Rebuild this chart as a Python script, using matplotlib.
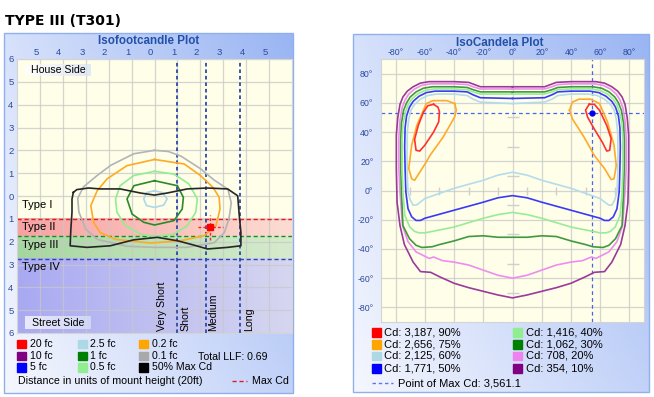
import numpy as np
import matplotlib
matplotlib.use("Agg")
import matplotlib.pyplot as plt
from matplotlib.patches import Rectangle
from matplotlib.colors import to_rgb
from matplotlib.transforms import ScaledTranslation

plt.rcParams["font.family"] = ["Liberation Sans", "DejaVu Sans"]

W, H = 654, 397

# ---------------- isofootcandle data (units of mount height) ----------------
fc_x_ticks = [-5, -4, -3, -2, -1, 0, 1, 2, 3, 4, 5]
fc_y_ticks = [-6, -5, -4, -3, -2, -1, 0, 1, 2, 3, 4, 5, 6]
type_bounds = [-1.0, -1.75, -2.75, -6.0]      # Type II / III / IV edges
range_lines = [1.0, 2.25, 3.75]               # very short | short | medium | long
range_labels = ["Very Short", "Short", "Medium", "Long"]
type_labels = ["Type I", "Type II", "Type III", "Type IV"]

fc_01 = [(0, 2.0), (0.6, 1.95), (1.15, 1.75), (2.0, 1.2), (2.6, 0.7), (3.2, 0.3),
         (3.35, -0.3), (3.25, -1.0), (3.05, -1.6), (2.6, -2.05), (1.4, -2.25),
         (0, -2.25), (-1.2, -2.2), (-2.5, -1.9), (-3.0, -1.45), (-3.3, -0.7),
         (-3.35, -0.1), (-3.1, 0.4), (-2.5, 0.9), (-1.9, 1.35), (-0.9, 1.85), (0, 2.0)]
fc_02 = [(0, 1.6), (1.3, 1.4), (2.0, 0.9), (2.55, 0.38), (2.82, -0.05), (2.86, -0.57),
         (2.68, -1.3), (2.16, -1.74), (1.14, -1.96), (-0.17, -2.06), (-1.7, -1.9),
         (-2.37, -1.6), (-2.66, -1.15), (-2.78, -0.42), (-2.5, 0.23), (-2.07, 0.75),
         (-1.2, 1.33), (0, 1.6)]
fc_05 = [(0, 1.08), (0.85, 0.96), (1.5, 0.53), (1.87, -0.13), (1.8, -0.71), (1.43, -1.3),
         (0.85, -1.67), (0, -1.78), (-0.6, -1.67), (-1.27, -1.3), (-1.64, -0.71),
         (-1.7, -0.13), (-1.5, 0.45), (-0.9, 0.9), (0, 1.08)]
fc_1 = [(0, 0.67), (1.0, 0.45), (1.26, -0.06), (1.21, -0.57), (0.85, -1.08), (0, -1.27),
        (-0.47, -1.15), (-0.98, -0.79), (-1.2, -0.13), (-0.9, 0.45), (0, 0.67)]
fc_25 = [(0, 0.23), (0.35, 0.15), (0.55, -0.13), (0.4, -0.4), (0, -0.5), (-0.35, -0.42),
         (-0.47, -0.13), (-0.35, 0.15), (0, 0.23)]
fc_half_max = [(-3.54, 0.16), (-3.39, 0.28), (-2.88, 0.35), (-2.37, 0.31), (-1.5, 0.31),
               (-0.61, 0.13), (0, 0.04), (0.55, 0.13), (1.43, 0.31), (2.31, 0.35),
               (3.19, 0.31), (3.63, 0.01), (3.7, -0.86), (3.77, -1.6), (3.77, -2.18),
               (3.19, -2.25), (2.31, -2.32), (1.72, -2.15), (1.0, -1.96), (0.12, -1.81),
               (-0.91, -1.92), (-1.93, -2.18), (-2.95, -2.25), (-3.68, -2.18),
               (-3.65, -1.45), (-3.6, -0.71), (-3.6, -0.13), (-3.54, 0.16)]
fc_max_point = (2.43, -1.37)

fc_labels = ["20 fc", "10 fc", "5 fc", "2.5 fc", "1 fc", "0.5 fc", "0.2 fc", "0.1 fc", "50% Max Cd"]
fc_colors = ["#ff0000", "#800080", "#0000ff", "#add8e6", "#008000", "#90ee90",
             "#ffa500", "#a9a9a9", "#000000"]

# ---------------- isocandela data (degrees) ----------------
cd_ticks = [-80, -60, -40, -20, 0, 20, 40, 60, 80]
cd_minor = [-70, -50, -30, -10, 10, 30, 50, 70]

cd_90_left = [(-54, 59), (-51, 57), (-50, 54), (-50.5, 47), (-54, 40), (-60, 31), (-63.5, 27),
              (-66, 27.5), (-67, 35), (-64.5, 44.5), (-61, 53.5), (-58, 58), (-54, 59)]
cd_90_right = [(52.5, 59), (50, 55), (51.5, 50), (56, 42), (61.5, 33), (64.5, 27), (66.5, 27.5),
               (67.5, 35.5), (64.5, 44.5), (59.5, 55), (56, 59), (52.5, 59)]
cd_75_left = [(-39.5, 59.5), (-45, 61.5), (-54.5, 61.5), (-59, 59.5), (-65.5, 44.5), (-69, 31),
              (-71, 15), (-69, 8), (-67, 7), (-63.5, 12.5), (-59, 19.5), (-56.5, 24),
              (-47.5, 36.5), (-39.5, 50.5), (-38.5, 55), (-39.5, 59.5)]
cd_75_right = [(39, 55), (41, 60.5), (45.5, 62.5), (53.5, 62.5), (59.5, 59.5), (65, 47),
               (69.5, 31), (71, 17), (69.5, 8), (67.5, 7.5), (63, 15), (56, 24), (49, 36.5),
               (41, 49), (39, 55)]
cd_60 = [(0, 59.5), (-22, 60.5), (-27, 62.5), (-31, 65), (-40, 66), (-52, 66), (-58, 65),
         (-63, 62.5), (-67, 59), (-69.5, 55), (-71, 49), (-72, 40), (-72.2, 25), (-72, 10),
         (-71.5, -1), (-70, -6.5), (-68, -10), (-66, -10), (-64.5, -9), (-60, -5.5), (-40, 1.5),
         (-20, 7), (-10, 10.5), (0, 12.5), (10, 10.5), (20, 7), (40, 1.5), (60, -5.5),
         (64.5, -9), (66, -10), (68, -10), (70, -6.5), (71.5, -1), (72, 10), (72.2, 25),
         (72, 40), (71, 49), (69.5, 55), (67, 59), (63, 62.5), (58, 65), (52, 66), (40, 66),
         (31, 65), (27, 62.5), (22, 60.5), (0, 59.5)]
cd_50 = [(0, 63), (-22, 63.5), (-27, 65.5), (-31, 67.5), (-40, 68), (-53, 68), (-59, 67),
         (-64, 64.5), (-68, 61), (-70.5, 57), (-72.5, 51), (-73.5, 43), (-73.8, 30),
         (-73.5, 15), (-73, -1), (-71.5, -12.5), (-69, -18), (-66, -20.5), (-63, -20.5),
         (-60, -19), (-40, -13.5), (-20, -8), (-10, -5), (0, -3.5), (10, -5), (20, -8),
         (40, -13.5), (60, -19), (63, -20.5), (66, -20.5), (69, -18), (71.5, -12.5), (73, -1),
         (73.5, 15), (73.8, 30), (73.5, 43), (72.5, 51), (70.5, 57), (68, 61), (64, 64.5),
         (59, 67), (53, 68), (40, 68), (31, 67.5), (27, 65.5), (22, 63.5), (0, 63)]
cd_40 = [(0, 66), (-22, 66), (-27, 67.5), (-31, 69), (-40, 69.5), (-54, 69.5), (-60, 68.5),
         (-65, 66), (-69, 62.5), (-71.5, 58.5), (-73.5, 53), (-75, 45), (-75.5, 35),
         (-75.5, 15), (-75, -1), (-73.7, -17), (-70.3, -25), (-67, -28), (-64, -29), (-60, -29),
         (-40, -25), (-20, -19), (-10, -16.5), (0, -15), (10, -16.5), (20, -19), (40, -25),
         (60, -29), (64, -29), (67, -28), (70.3, -25), (73.7, -17), (75, -1), (75.5, 15),
         (75.5, 35), (75, 45), (73.5, 53), (71.5, 58.5), (69, 62.5), (65, 66), (60, 68.5),
         (54, 69.5), (40, 69.5), (31, 69), (27, 67.5), (22, 66), (0, 66)]
cd_30 = [(0, 67.5), (-22, 67.5), (-27, 69), (-31, 70.5), (-40, 71), (-55, 71), (-61, 70),
         (-66, 67.5), (-70, 64), (-72.5, 60), (-74.5, 55), (-76, 46), (-76.5, 35), (-76.5, 15),
         (-76, -1), (-75, -24), (-70.5, -33), (-66, -37.5), (-62, -39), (-55, -38.5),
         (-50, -37), (-40, -34.5), (-30, -31.5), (-20, -31), (-10, -32), (0, -32), (10, -32),
         (20, -31), (30, -31.5), (40, -34.5), (50, -37), (55, -38.5), (62, -39), (66, -37.5),
         (70.5, -33), (75, -24), (76, -1), (76.5, 15), (76.5, 35), (76, 46), (74.5, 55),
         (72.5, 60), (70, 64), (66, 67.5), (61, 70), (55, 71), (40, 71), (31, 70.5), (27, 69),
         (22, 67.5), (0, 67.5)]
cd_20 = [(0, 69.5), (-22, 69.5), (-27, 71), (-31, 72.5), (-40, 73), (-56, 73), (-62, 72),
         (-67, 69.5), (-71, 66), (-73.5, 62), (-75.5, 57), (-77, 48), (-77.8, 36), (-77.8, 15),
         (-77, -1), (-75.3, -24), (-71.5, -35), (-66, -42), (-61, -44.5), (-57, -46.5),
         (-54, -45.5), (-48, -48), (-40, -49), (-30, -51), (-20, -54.5), (-10, -58), (0, -60),
         (10, -58), (20, -54.5), (30, -51), (40, -49), (48, -48), (54, -45.5), (57, -46.5),
         (61, -44.5), (66, -42), (71.5, -35), (75.3, -24), (77, -1), (77.8, 15), (77.8, 36),
         (77, 48), (75.5, 57), (73.5, 62), (71, 66), (67, 69.5), (62, 72), (56, 73), (40, 73),
         (31, 72.5), (27, 71), (22, 69.5), (0, 69.5)]
cd_10 = [(0, 71), (-12, 71), (-22, 71), (-26, 72.5), (-30, 74), (-40, 74.5), (-57, 74.5),
         (-63, 73.5), (-68, 71), (-72, 68), (-75, 64), (-77, 59), (-78.5, 50), (-79.5, 38),
         (-79.5, 15), (-79, -8), (-77, -24), (-74, -37), (-71, -43), (-68, -49), (-63, -55.5),
         (-56, -56), (-50, -59), (-40, -63.5), (-30, -66.5), (-20, -69), (-10, -71.5),
         (0, -73.5), (10, -71.5), (20, -69), (30, -66.5), (40, -63.5), (50, -59), (56, -56),
         (63, -55.5), (68, -49), (71, -43), (74, -37), (77, -24), (79, -8), (79.5, 15),
         (79.5, 38), (78.5, 50), (77, 59), (75, 64), (72, 68), (68, 71), (63, 73.5), (57, 74.5),
         (40, 74.5), (30, 74), (26, 72.5), (22, 71), (12, 71), (0, 71)]
cd_max_point = (54.6, 53.2)

cd_labels = ["Cd: 3,187, 90%", "Cd: 2,656, 75%", "Cd: 2,125, 60%", "Cd: 1,771, 50%",
             "Cd: 1,416, 40%", "Cd: 1,062, 30%", "Cd: 708, 20%", "Cd: 354, 10%"]
cd_colors = ["#ff0000", "#ffa500", "#add8e6", "#0000ff", "#90ee90", "#008000", "#ee82ee", "#800080"]

TICK = "#2c4a9e"
HEAD = "#2350a8"
PLOT_BG = "#fefee9"


def px_rect(x0, y0, x1, y1):
    return [x0 / W, 1 - y1 / H, (x1 - x0) / W, (y1 - y0) / H]


def grad(ax, extent, tl, tr, bl, br, zorder=0, alpha=1.0):
    n = 64
    u = np.linspace(0, 1, n)
    tl, tr, bl, br = (np.array(to_rgb(c)) for c in (tl, tr, bl, br))
    top = (1 - u)[:, None] * tl + u[:, None] * tr
    bot = (1 - u)[:, None] * bl + u[:, None] * br
    img = (1 - u)[:, None, None] * top[None] + u[:, None, None] * bot[None]
    ax.imshow(img, extent=extent, aspect="auto", interpolation="bilinear",
              zorder=zorder, alpha=alpha)


def xy(pts):
    return [p[0] for p in pts], [p[1] for p in pts]


fig = plt.figure(figsize=(W / 100, H / 100), dpi=100)

# background frames
bg = fig.add_axes([0, 0, 1, 1])
bg.axis("off")
for x0, y0, x1, y1 in [(4, 33, 293, 393), (353, 34, 649, 392)]:
    grad(bg, (x0, x1, y1, y0), "#d6e1fb", "#9ab5f3", "#f5f7fe", "#c2d2f8")
    bg.add_patch(Rectangle((x0, y0), x1 - x0, y1 - y0, fill=False, ec="#8fb0ec", lw=1, zorder=3))
bg.set_xlim(0, W)
bg.set_ylim(H, 0)

# ---------------- isofootcandle plot ----------------
axL = fig.add_axes(px_rect(17, 59, 292, 333))
axL.set_facecolor(PLOT_BG)
band_cols = [("#f7a2a2", "#fcdcd2"), ("#a6d6a0", "#d6ebcd"), ("#a9a9f3", "#d6d6f0")]
for i, (cl, cr) in enumerate(band_cols):
    grad(axL, (-6, 6, type_bounds[i + 1], type_bounds[i]), cl, cr, cl, cr)
for yb, c in zip(type_bounds[:3], ["#e02020", "#1f8a1f", "#2a4aa8"]):
    axL.axhline(yb, color=c, lw=1, ls=(0, (3, 2)), zorder=1.8)
for xv in range_lines:
    axL.axvline(xv, color="#2c4aa8", lw=1.3, ls=(0, (2, 1.6)), zorder=1.8)

for pts, c in [(fc_01, "#b4b4b4"), (fc_02, "#ffaa22"), (fc_05, "#90ee90"),
               (fc_1, "#2a8a2a"), (fc_25, "#add8e6"), (fc_half_max, "#262626")]:
    px, py = xy(pts)
    axL.plot(px, py, color=c, lw=1.2, zorder=3)

mx, my = fc_max_point
axL.plot([mx - 0.55, mx + 0.55], [my, my], color="#ff2020", lw=1, ls=(0, (2, 1.5)), zorder=4)
axL.plot([mx, mx], [my - 0.55, my + 0.55], color="#ff2020", lw=1, ls=(0, (2, 1.5)), zorder=4)
axL.plot([mx], [my], marker="s", ms=4, color="#ff0000", zorder=5)

axL.set_xlim(-6, 6)
axL.set_ylim(-6, 6)
axL.set_xticks(fc_x_ticks)
axL.set_xticklabels([str(abs(v)) for v in fc_x_ticks])
axL.set_yticks(fc_y_ticks)
axL.set_yticklabels([str(abs(v)) for v in fc_y_ticks])
axL.xaxis.tick_top()
axL.tick_params(axis="x", length=0, labelsize=6.8, labelcolor=TICK, pad=1.5)
axL.tick_params(axis="y", length=0, labelsize=6.8, labelcolor=TICK, pad=2.5)
for lab in axL.get_xticklabels():
    lab.set_transform(lab.get_transform() + ScaledTranslation(-0.04, 0, fig.dpi_scale_trans))
axL.grid(True, color="#c8c8c8", lw=0.9, alpha=0.75)
for s in axL.spines.values():
    s.set_color("#d4d4d4")
    s.set_linewidth(0.8)

# ---------------- isocandela plot ----------------
axR = fig.add_axes(px_rect(381, 59, 644, 322))
axR.set_facecolor(PLOT_BG)
axR.plot(cd_minor, [0] * len(cd_minor), ls="none", marker="|", ms=6, mew=1, color="#cfcfcf", zorder=1.6)
axR.plot([0] * len(cd_minor), cd_minor, ls="none", marker="_", ms=9, mew=1, color="#cfcfcf", zorder=1.6)
axR.axhline(cd_max_point[1], color="#4a66e6", lw=0.9, ls=(0, (3, 2.5)), zorder=1.8)
axR.axvline(cd_max_point[0], color="#4a66e6", lw=0.9, ls=(0, (3, 2.5)), zorder=1.8)

for pts, c in [(cd_10, "#9a3a9a"), (cd_20, "#ef8cef"), (cd_30, "#3f9a3f"), (cd_40, "#98ec98"),
               (cd_50, "#3a3af6"), (cd_60, "#b4dcea"), (cd_75_left, "#ffaa2a"),
               (cd_75_right, "#ffaa2a"), (cd_90_left, "#ff3030"), (cd_90_right, "#ff3030")]:
    px, py = xy(pts)
    axR.plot(px, py, color=c, lw=1.2, zorder=3)
axR.plot([cd_max_point[0]], [cd_max_point[1]], marker="o", ms=3.5, color="#0000ee", zorder=5)

axR.set_xlim(-90, 90)
axR.set_ylim(-90, 90)
axR.set_xticks(cd_ticks)
axR.set_xticklabels([f"{v}°" for v in cd_ticks])
axR.set_yticks(cd_ticks)
axR.set_yticklabels([f"{v}°" for v in cd_ticks])
axR.xaxis.tick_top()
axR.tick_params(axis="x", length=0, labelsize=6.3, labelcolor=TICK, pad=1.5)
axR.tick_params(axis="y", length=0, labelsize=6.3, labelcolor=TICK, pad=5.5)
axR.grid(True, color="#c8c8c8", lw=0.9, alpha=0.75)
for s in axR.spines.values():
    s.set_color("#d4d4d4")
    s.set_linewidth(0.8)

# ---------------- overlay text and legends (pixel coordinates) ----------------
fg = fig.add_axes([0, 0, 1, 1])
fg.axis("off")

fg.text(5, 21, "TYPE III (T301)", fontsize=10, fontweight="bold",
        family=["DejaVu Sans"], va="center", ha="left")
fg.text(149, 41.5, "Isofootcandle Plot", fontsize=8.4, fontweight="bold", color=HEAD,
        ha="center", va="center")
fg.text(500, 42.5, "IsoCandela Plot", fontsize=8.4, fontweight="bold", color=HEAD,
        ha="center", va="center")

# house / street side boxes
for (y0, y1), txt in zip([(64, 76), (316, 329)], ["House Side", "Street Side"]):
    grad(fg, (25, 91, y1, y0), "#ffffff", "#d8e2f6", "#ffffff", "#d8e2f6", zorder=2, alpha=0.75)
    fg.text(58, (y0 + y1) / 2, txt, fontsize=7.6, ha="center", va="center", zorder=3)

for txt, yc in zip(type_labels, [204.5, 227, 245, 267.5]):
    fg.text(22, yc, txt, fontsize=8, ha="left", va="center")
for txt, xc in zip(range_labels, [162, 185, 213, 249]):
    fg.text(xc, 331, txt, fontsize=7.6, rotation=90, ha="center", va="bottom")

# isofootcandle legend
sq_x = [17, 78, 139]
row_y = [344, 356, 367.5]
for i, (lab, c) in enumerate(zip(fc_labels, fc_colors)):
    col, row = divmod(i, 3)
    fg.add_patch(Rectangle((sq_x[col], row_y[row] - 4.2), 8.5, 8.5, color=c))
    fg.text(sq_x[col] + 12.5, row_y[row], lab, fontsize=7.6, va="center", ha="left")
fg.text(198, 357.5, "Total LLF: 0.69", fontsize=7.6, va="center", ha="left")
fg.text(18, 381, "Distance in units of mount height (20ft)", fontsize=7.7, va="center", ha="left")
fg.plot([232, 247], [381, 381], color="#e02020", lw=1, ls=(0, (3, 2)))
fg.text(252, 381, "Max Cd", fontsize=7.7, va="center", ha="left")

# isocandela legend
cd_sq_x = [372, 513]
cd_row_y = [332.5, 344.2, 355.9, 368.3]
for i, (lab, c) in enumerate(zip(cd_labels, cd_colors)):
    col, row = divmod(i, 4)
    fg.add_patch(Rectangle((cd_sq_x[col], cd_row_y[row] - 4.2), 8.5, 8.5, color=c))
    fg.text(cd_sq_x[col] + 12.5, cd_row_y[row], lab, fontsize=8, va="center", ha="left")
fg.plot([372, 393], [383, 383], color="#5a78e8", lw=1, ls=(0, (2.5, 2)))
fg.text(398, 383, "Point of Max Cd: 3,561.1", fontsize=8, va="center", ha="left")

fg.set_xlim(0, W)
fg.set_ylim(H, 0)

fig.savefig("out.png", dpi=100)
